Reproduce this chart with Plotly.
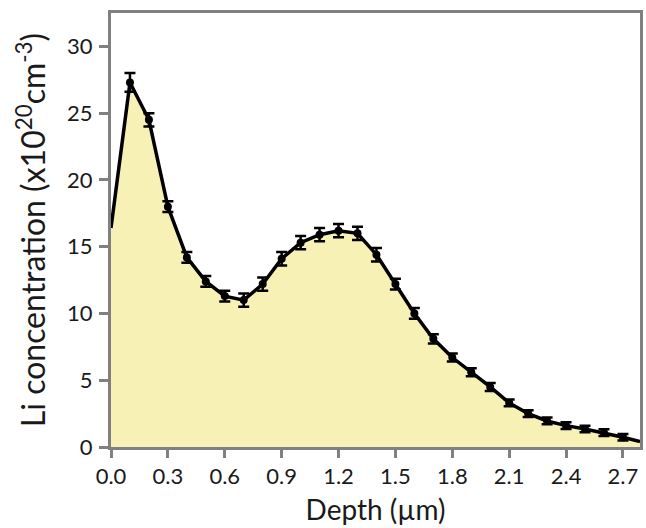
import plotly.graph_objects as go

# Measured points (depth in µm, Li concentration in 1e20 cm^-3)
depth = [0.1, 0.2, 0.3, 0.4, 0.5, 0.6, 0.7, 0.8, 0.9, 1.0, 1.1, 1.2, 1.3, 1.4,
         1.5, 1.6, 1.7, 1.8, 1.9, 2.0, 2.1, 2.2, 2.3, 2.4, 2.5, 2.6, 2.7]
conc = [27.3, 24.5, 18.0, 14.2, 12.4, 11.3, 11.0, 12.2, 14.1, 15.3, 15.9, 16.2, 16.0, 14.4,
        12.2, 10.0, 8.1, 6.7, 5.6, 4.5, 3.3, 2.5, 1.95, 1.6, 1.35, 1.07, 0.73]
err = [0.7, 0.5, 0.4, 0.4, 0.4, 0.4, 0.5, 0.5, 0.5, 0.5, 0.5, 0.5, 0.5, 0.5,
       0.4, 0.4, 0.35, 0.3, 0.3, 0.3, 0.25, 0.25, 0.25, 0.25, 0.25, 0.25, 0.25]

# Curve end points (surface and far edge) without markers
edge_depth = [0.0, 2.79]
edge_conc = [16.4, 0.4]

x_ticks = [0.0, 0.3, 0.6, 0.9, 1.2, 1.5, 1.8, 2.1, 2.4, 2.7]
x_ticklabels = ["0.0", "0.3", "0.6", "0.9", "1.2", "1.5", "1.8", "2.1", "2.4", "2.7"]
y_ticks = [0, 5, 10, 15, 20, 25, 30]

line_x = [edge_depth[0]] + depth + [edge_depth[1]]
line_y = [edge_conc[0]] + conc + [edge_conc[1]]

fig = go.Figure()
fig.add_trace(go.Scatter(
    x=line_x, y=line_y, mode="lines", fill="tozeroy",
    fillcolor="#F8F1B6", line=dict(color="#000000", width=3.5),
    hoverinfo="skip", showlegend=False,
))
fig.add_trace(go.Scatter(
    x=depth, y=conc, mode="markers",
    marker=dict(color="#000000", size=8),
    error_y=dict(type="data", array=err, visible=True, color="#000000",
                 thickness=2.5, width=5.5),
    showlegend=False,
))

font_family = "Lato, 'Open Sans', sans-serif"
axis_common = dict(
    showgrid=False, zeroline=False, showline=True, mirror=True,
    linecolor="#808080", linewidth=3, ticks="outside",
    tickwidth=3, tickcolor="#808080",
    tickfont=dict(family=font_family, size=22, color="#1a1a1a"),
)

fig.update_layout(
    width=646, height=528,
    margin=dict(l=111, r=3, t=13, b=81),
    paper_bgcolor="white", plot_bgcolor="white",
    xaxis=dict(range=[0, 2.79], tickvals=x_ticks, ticktext=x_ticklabels,
               ticklen=8, ticklabelstandoff=0,
               title=dict(text="Depth (µm)", standoff=12,
                          font=dict(family=font_family, size=28, color="#1a1a1a")),
               **axis_common),
    yaxis=dict(range=[0, 32.5], tickvals=y_ticks,
               ticklen=9, ticklabelstandoff=2,
               title=dict(text="Li concentration (x10<sup>20</sup>cm<sup>-3</sup>)", standoff=12,
                          font=dict(family=font_family, size=32, color="#1a1a1a")),
               **axis_common),
)

fig.write_html("out.html")
